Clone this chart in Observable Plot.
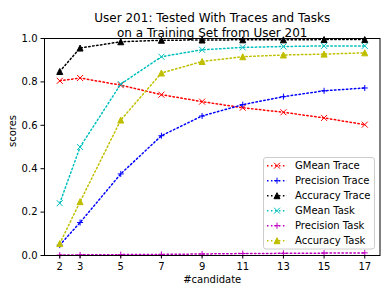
<!DOCTYPE html>
<html>
<head>
<meta charset="utf-8">
<script src="https://cdn.jsdelivr.net/npm/d3@7"></script>
<script src="https://cdn.jsdelivr.net/npm/@observablehq/plot@0.6"></script>
<style>
  html, body { margin: 0; padding: 0; background: #fff; }
  #wrap { position: relative; width: 386px; height: 293px; font-family: "DejaVu Sans", sans-serif; }
  #legend { position: absolute; left: 0; top: 0; }
</style>
</head>
<body>
<div id="wrap"></div>
<script>
const candidates = [2, 3, 5, 7, 9, 11, 13, 15, 17];
const xTicks = [2, 3, 5, 7, 9, 11, 13, 15, 17];
const yTicks = [0, 0.2, 0.4, 0.6, 0.8, 1.0];
const gmeanTrace     = [0.805, 0.818, 0.785, 0.741, 0.709, 0.681, 0.660, 0.634, 0.603];
const precisionTrace = [0.048, 0.152, 0.376, 0.552, 0.643, 0.695, 0.732, 0.759, 0.772];
const accuracyTrace  = [0.848, 0.956, 0.985, 0.992, 0.993, 0.994, 0.994, 0.995, 0.995];
const gmeanTask      = [0.241, 0.500, 0.790, 0.916, 0.948, 0.959, 0.963, 0.966, 0.966];
const precisionTask  = [0.002, 0.003, 0.004, 0.005, 0.007, 0.009, 0.010, 0.011, 0.012];
const accuracyTask   = [0.055, 0.248, 0.624, 0.841, 0.894, 0.916, 0.924, 0.928, 0.934];
const seriesNames  = ["GMean Trace", "Precision Trace", "Accuracy Trace", "GMean Task", "Precision Task", "Accuracy Task"];
const seriesColors = ["#ff0000", "#0000ff", "#000000", "#00bfbf", "#bf00bf", "#bfbf00"];
const seriesMarkers = ["x", "+", "^", "x", "+", "^"];
const seriesValues = [gmeanTrace, precisionTrace, accuracyTrace, gmeanTask, precisionTask, accuracyTask];

// matplotlib-like marker shapes (r = 3 -> half-extent 3px)
const symX = { draw(ctx, size) { const s = Math.sqrt(size / Math.PI); ctx.moveTo(-s, -s); ctx.lineTo(s, s); ctx.moveTo(-s, s); ctx.lineTo(s, -s); } };
const symPlus = { draw(ctx, size) { const s = Math.sqrt(size / Math.PI); ctx.moveTo(-s, 0); ctx.lineTo(s, 0); ctx.moveTo(0, -s); ctx.lineTo(0, s); } };
const symTri = { draw(ctx, size) { const s = Math.sqrt(size / Math.PI); ctx.moveTo(0, -s); ctx.lineTo(-s, s); ctx.lineTo(s, s); ctx.closePath(); } };
const symOf = {"x": symX, "+": symPlus, "^": symTri};

const marks = [];
seriesNames.forEach((name, i) => {
  const data = candidates.map((c, j) => ({c, v: seriesValues[i][j]}));
  const col = seriesColors[i];
  marks.push(Plot.line(data, {x: "c", y: "v", stroke: col, strokeWidth: 1.5, strokeDasharray: "1.5,2.475"}));
  const filled = seriesMarkers[i] === "^";
  marks.push(Plot.dot(data, {x: "c", y: "v", r: 3, symbol: symOf[seriesMarkers[i]], stroke: col, strokeWidth: 1, fill: filled ? col : "none"}));
});

const chart = Plot.plot({
  width: 386,
  height: 293,
  marginLeft: 44,
  marginRight: 6.5,
  marginTop: 38,
  marginBottom: 38,
  style: {fontFamily: "DejaVu Sans", fontSize: "10px", background: "#fff", color: "#000"},
  x: {domain: [1.25, 17.75]},
  y: {domain: [0, 1]},
  marks: [
    ...marks,
    Plot.frame({stroke: "#000", strokeWidth: 1}),
    Plot.axisX({ticks: xTicks, tickSize: 3.5, tickPadding: 3.5, label: null, tickFormat: d => String(d)}),
    Plot.axisY({ticks: yTicks, tickSize: 3.5, tickPadding: 3.5, label: null, tickFormat: d3.format(".1f")}),
    Plot.text(["#candidate"], {frameAnchor: "bottom", dy: 27, fontSize: 10, fill: "#000"}),
    Plot.text(["scores"], {frameAnchor: "left", dx: -32, rotate: -90, fontSize: 10, fill: "#000"}),
    Plot.text(["User 201: Tested With Traces and Tasks"], {frameAnchor: "top", dy: -25, fontSize: 12, fill: "#000"}),
    Plot.text(["on a Training Set from User 201"], {frameAnchor: "top", dy: -10, fontSize: 12, fill: "#000"})
  ]
});
document.getElementById("wrap").appendChild(chart);

// Legend overlay
const lg = d3.select("#wrap").append("svg").attr("id", "legend").attr("width", 386).attr("height", 293)
  .style("font-family", "DejaVu Sans").style("font-size", "10px");
lg.append("rect").attr("x", 263.5).attr("y", 157.5).attr("width", 111).attr("height", 91.5)
  .attr("rx", 2.5).attr("fill", "rgba(255,255,255,0.8)").attr("stroke", "#cccccc").attr("stroke-width", 1);
seriesNames.forEach((name, i) => {
  const cy = 165.7 + i * 15;
  const g = lg.append("g");
  g.append("line").attr("x1", 267).attr("x2", 287).attr("y1", cy).attr("y2", cy)
    .attr("stroke", seriesColors[i]).attr("stroke-width", 1.5).attr("stroke-dasharray", "1.5,2.475");
  const m = seriesMarkers[i], cx = 277, s = 3;
  let d;
  if (m === "x") d = `M${cx-s},${cy-s}L${cx+s},${cy+s}M${cx-s},${cy+s}L${cx+s},${cy-s}`;
  else if (m === "+") d = `M${cx-s},${cy}L${cx+s},${cy}M${cx},${cy-s}L${cx},${cy+s}`;
  else d = `M${cx},${cy-s}L${cx-s},${cy+s}L${cx+s},${cy+s}Z`;
  g.append("path").attr("d", d).attr("stroke", seriesColors[i]).attr("stroke-width", 1)
    .attr("fill", m === "^" ? seriesColors[i] : "none");
  g.append("text").attr("x", 295).attr("y", cy).attr("dy", "0.35em").attr("fill", "#000").text(name);
});
</script>
</body>
</html>
